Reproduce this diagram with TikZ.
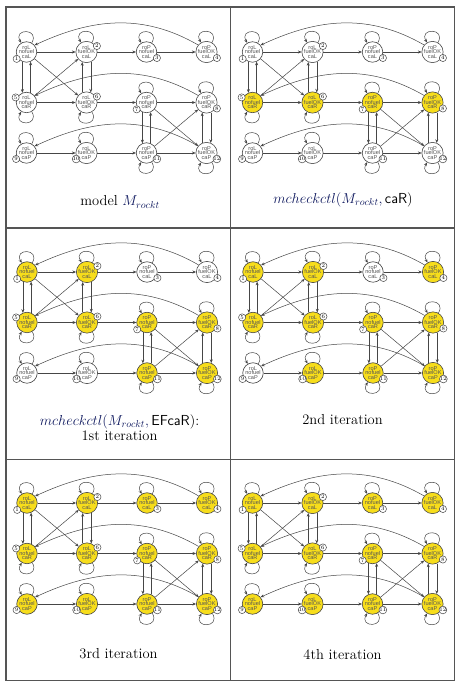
\documentclass[tikz,border=0pt]{standalone}
\usepackage{fontspec}
\newfontfamily\nodefont{Liberation Sans}
\usetikzlibrary{arrows.meta}
\definecolor{nodeyel}{RGB}{247,221,27}
\definecolor{edgegray}{RGB}{70,70,70}
\definecolor{txtgray}{RGB}{85,85,85}
\definecolor{nodeline}{RGB}{70,70,70}
\definecolor{framegray}{RGB}{85,85,85}
\definecolor{mathblue}{RGB}{15,25,95}

\newcommand{\setfills}[1]{%
  \foreach \k in {1,...,12}{\xglobal\colorlet{fill\k}{white}}%
  \foreach \k in {#1}{\xglobal\colorlet{fill\k}{nodeyel}}}

\tikzset{
  st/.style={circle, draw=nodeline, line width=0.6pt, minimum size=20.5pt,
    inner sep=0pt, align=center, text=txtgray,
    font=\nodefont\fontsize{5.6}{4.4}\selectfont},
  tr/.style={draw=edgegray, line width=0.5pt, -{Stealth[length=3.6pt,width=3pt]}},
  numc/.style={circle, draw=nodeline, fill=white, line width=0.5pt, inner sep=0pt,
    minimum size=7.2pt, text=black, font=\fontsize{5.6}{5.6}\selectfont},
  captext/.style={align=center, font=\fontsize{14.5}{15.5}\selectfont},
  framel/.style={draw=framegray, line width=1.2pt}
}

\newcommand{\rgraph}[2]{%
  \setfills{#2}%
  \foreach \i/\c/\r/\ta/\tb/\tc in {1/0/0/roL/nofuel/caL, 2/1/0/roL/fuelOK/caL,
      3/2/0/roP/nofuel/caL, 4/3/0/roP/fuelOK/caL, 5/0/1/roL/nofuel/caR,
      6/1/1/roL/fuelOK/caR, 7/2/1/roP/nofuel/caR, 8/3/1/roP/fuelOK/caR,
      9/0/2/roL/nofuel/caP, 10/1/2/roL/fuelOK/caP, 11/2/2/roP/nofuel/caP,
      12/3/2/roP/fuelOK/caP}{%
    \node[st, fill=fill\i] (#1\i) at (\c*60,-\r*50.5) {\ta\\\tb\\\tc};}
  % straight transitions
  \foreach \s/\t in {1/2,2/3,3/4,5/6,6/7,7/8,9/10,10/11,11/12,1/6,5/2,7/12,11/8}{%
    \draw[tr] (#1\s) -- (#1\t);}
  % vertical pairs
  \draw[tr] (#11.247) -- (#15.113);
  \draw[tr] (#15.67) -- (#11.293);
  \draw[tr] (#16.113) -- (#12.247);
  \draw[tr] (#12.293) -- (#16.67);
  \draw[tr] (#17.247) -- (#111.113);
  \draw[tr] (#111.67) -- (#17.293);
  \draw[tr] (#112.113) -- (#18.247);
  \draw[tr] (#18.293) -- (#112.67);
  % long arcs
  \draw[tr] (#14.140) to[out=150,in=25] (#11.40);
  \draw[tr] (#18.140) to[out=150,in=25] (#15.40);
  \draw[tr] (#112.140) to[out=150,in=25] (#19.40);
  % self loops
  \foreach \k in {1,2,3,4,7,8,9,10}{%
    \draw[tr] (#1\k.60) to[out=60,in=120,min distance=17pt] (#1\k.120);}
  \foreach \k in {5,6,11,12}{%
    \draw[tr] (#1\k.300) to[out=300,in=240,min distance=17pt] (#1\k.240);}
  % state numbers
  \foreach \k/\a in {1/215,2/30,3/-30,4/-30,5/155,6/30,7/215,8/-30,9/210,10/210,11/-30,12/-30}{%
    \node[numc] (#1m\k) at ([shift={(\a:12)}]#1\k.center) {\k};}
}

\begin{document}
\begin{tikzpicture}[x=1pt,y=1pt]
\useasboundingbox (0,0) rectangle (462,688);
\fill[white] (0,0) rectangle (462,688);

% frame and dividers
\draw[framel] (6,7.5) rectangle (454.5,681);
\draw[framel] (230.5,7.5) -- (230.5,681);
\draw[framel] (6,460) -- (454.5,460);
\draw[framel] (6,228.5) -- (454.5,228.5);

\begin{scope}[shift={(26.5,636)}]
  \rgraph{a}{0}
\end{scope}
\begin{scope}[shift={(252.5,636)}]
  \rgraph{b}{5,6,7,8}
\end{scope}
\begin{scope}[shift={(27,416)}]
  \rgraph{c}{1,2,5,6,7,8,11,12}
\end{scope}
\begin{scope}[shift={(253,416)}]
  \rgraph{d}{1,2,4,5,6,7,8,10,11,12}
\end{scope}
\begin{scope}[shift={(27,185)}]
  \rgraph{e}{1,2,3,4,5,6,7,8,9,10,11,12}
\end{scope}
\begin{scope}[shift={(252.5,185)}]
  \rgraph{f}{1,2,3,4,5,6,7,8,9,10,11,12}
\end{scope}

% captions
\node[captext] (cap1) at (120,486) {model $\color{mathblue}M_{rockt}$};
\node[captext] (cap2) at (343,488) {$\color{mathblue}mcheckctl(M_{rockt}, \textcolor{black}{\textsf{caR})}$};
\node[captext] (cap3) at (119.5,260.5) {$\color{mathblue}mcheckctl(M_{rockt}, \textcolor{black}{\textsf{EFcaR})}$:\\1st iteration};
\node[captext] (cap4) at (342.5,268) {2nd iteration};
\node[captext] (cap5) at (118.5,34) {3rd iteration};
\node[captext] (cap6) at (342.5,33) {4th iteration};
\end{tikzpicture}
\end{document}
